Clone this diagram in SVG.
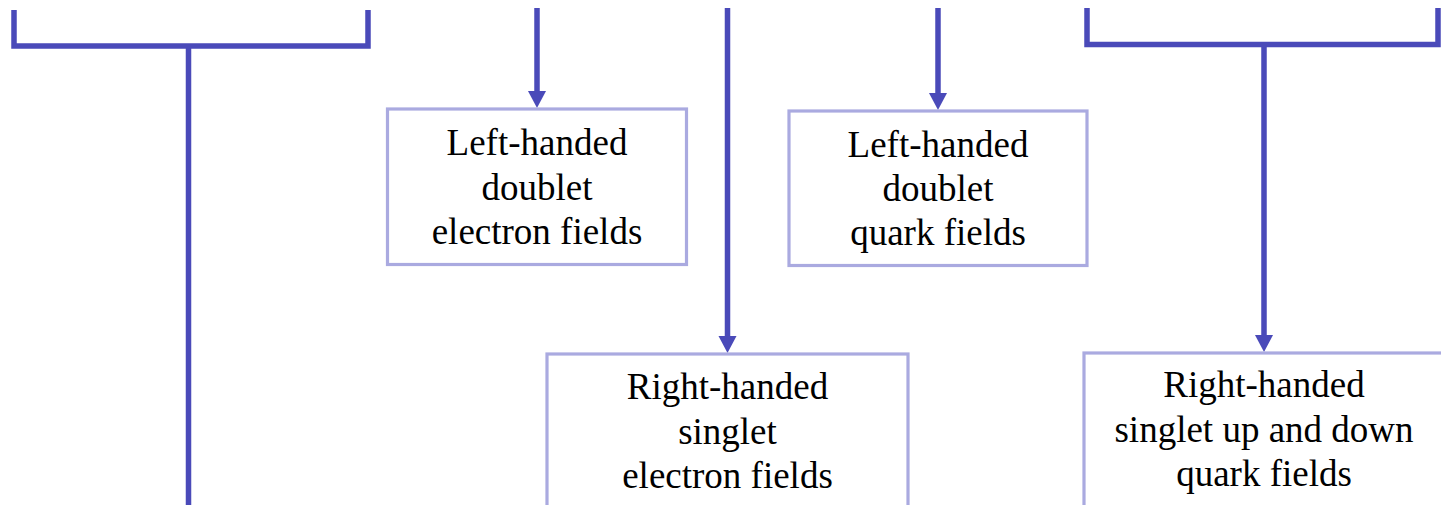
<svg xmlns="http://www.w3.org/2000/svg" width="1441" height="505" viewBox="0 0 1441 505">
<style>
.c{fill:none;stroke:#4A4AB9;stroke-width:5.5}
.h{fill:#4A4AB9}
.b{fill:#fff;stroke:#AAAAE0;stroke-width:3.2}
text{font-family:"Liberation Serif","Times New Roman",serif;font-size:37px;fill:#000;text-anchor:middle}
</style>
<rect width="1441" height="505" fill="#fff"/>
<g id="connectors">
<path class="c" d="M14,10 V46 H368 V10 M188.5,46 V505"/>
<path class="c" d="M1087,8 V44.5 H1438 V8 M1264,44.5 V335"/>
<line class="c" x1="537" y1="8" x2="537" y2="91"/>
<line class="c" x1="938" y1="8" x2="938" y2="93"/>
<line class="c" x1="727.5" y1="8" x2="727.5" y2="336"/>
<path class="h" d="M528,91 H546 L537,108 Z"/>
<path class="h" d="M929,93 H947 L938,110 Z"/>
<path class="h" d="M718.5,336 H736.5 L727.5,353 Z"/>
<path class="h" d="M1255,335 H1273 L1264,352 Z"/>
</g>
<g id="n1">
<rect class="b" x="387.5" y="109" width="299" height="155.5"/>
<text x="537" y="155">Left-handed</text>
<text x="537" y="199.5">doublet</text>
<text x="537" y="244">electron fields</text>
</g>
<g id="n2">
<rect class="b" x="789" y="111" width="298" height="154.5"/>
<text x="938" y="157">Left-handed</text>
<text x="938" y="201">doublet</text>
<text x="938" y="245">quark fields</text>
</g>
<g id="n3">
<rect class="b" x="547" y="354" width="361" height="160"/>
<text x="727.5" y="399">Right-handed</text>
<text x="727.5" y="444">singlet</text>
<text x="727.5" y="488">electron fields</text>
</g>
<g id="n4">
<rect class="b" x="1084" y="353" width="370" height="160"/>
<text x="1264" y="397">Right-handed</text>
<text x="1264" y="442">singlet up and down</text>
<text x="1264" y="486">quark fields</text>
</g>
</svg>
